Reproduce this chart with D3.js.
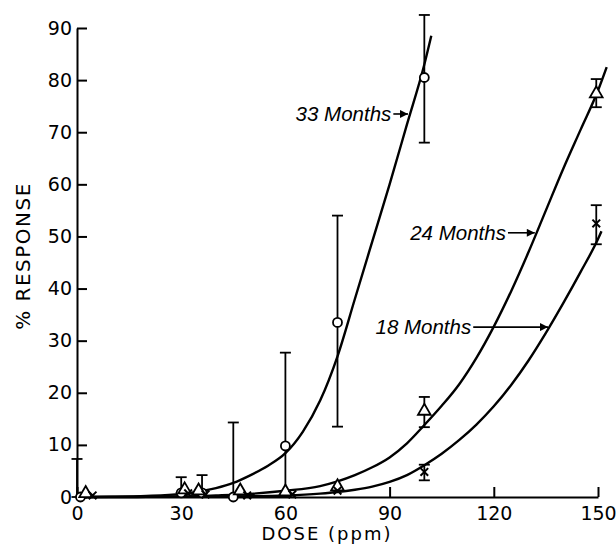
<!DOCTYPE html>
<html>
<head>
<meta charset="utf-8">
<script src="https://cdn.jsdelivr.net/npm/d3@7"></script>
<style>
  html, body { margin: 0; padding: 0; background: #fff; }
  svg { display: block; }
</style>
</head>
<body>
<svg id="chart" width="616" height="548"></svg>
<script>
// ---------- data ----------
const xTicks = [0, 30, 60, 90, 120, 150];
const yTicks = [0, 10, 20, 30, 40, 50, 60, 70, 80, 90];

// 33 months (circles)
const dose33 = [1, 30, 36, 45, 60, 75, 100];
const resp33 = [0, 0.8, 0.8, 0, 9.8, 33.5, 80.5];
const lo33   = [0, 0.8, 0.8, 0, 0, 13.5, 68];
const hi33   = [7.3, 3.8, 4.2, 14.3, 27.7, 54, 92.5];

// 24 months (triangles)
const dose24 = [2.5, 31, 35, 47, 60, 75, 100, 149.5];
const resp24 = [0.5, 1.2, 1.0, 1.0, 0.8, 1.8, 16.3, 77.2];
const lo24   = [null, null, null, null, null, null, 13.4, 74.8];
const hi24   = [null, null, null, null, null, null, 19.2, 80.2];

// 18 months (x marks)
const dose18 = [4.5, 32, 37, 49, 62, 75, 100, 149.5];
const resp18 = [0.3, 0.7, 0.5, 0.3, 0.5, 1.2, 4.8, 52.5];
const lo18   = [null, null, null, null, null, null, 3.2, 48.5];
const hi18   = [null, null, null, null, null, null, 6.2, 56];

// fitted curves
const curveDose33 = [0, 10, 20, 30, 40, 45, 50, 55, 60, 65, 70, 75, 80, 85, 90, 95, 100, 102];
const curveResp33 = [0, 0.05, 0.2, 0.6, 1.7, 2.7, 4.2, 6.0, 8.4, 12.5, 18.5, 27, 38, 49, 60, 71.5, 83, 88.5];
const curveDose24 = [0, 10, 20, 30, 40, 50, 60, 70, 75, 80, 85, 90, 95, 100, 105, 110, 115, 120, 125, 130, 135, 140, 145, 150, 152.5];
const curveResp24 = [0, 0.02, 0.05, 0.1, 0.3, 0.6, 1.2, 2.1, 3.0, 4.2, 5.7, 7.6, 10.3, 13.8, 17.5, 21.6, 26.7, 32.7, 39.5, 47, 55, 63, 70.5, 78, 82.5];
const curveDose18 = [0, 10, 20, 30, 40, 50, 60, 70, 75, 80, 85, 90, 95, 100, 105, 110, 115, 120, 125, 130, 135, 140, 145, 150, 151];
const curveResp18 = [0, 0, 0.02, 0.05, 0.1, 0.15, 0.3, 0.65, 0.95, 1.4, 2.0, 2.9, 4.2, 6.1, 8.3, 10.9, 13.9, 17.4, 21.5, 26.2, 31.5, 37.2, 43.2, 49.5, 51];

// annotations: label, dose/response the arrow points to
const annLabels = ["33 Months", "24 Months", "18 Months"];
const annTipDose = [95.3, 131.8, 135.6];
const annTipResp = [73.5, 50.7, 32.6];
const annTextEndDose = [90.5, 123.5, 113.5];

// ---------- drawing ----------
const svg = d3.select("#chart");
const x = d3.scaleLinear().domain([0, 150]).range([77, 598]);
const y = d3.scaleLinear().domain([0, 90]).range([497, 28]);

const tickFont = "'DejaVu Sans', sans-serif";

// y axis
const yAxis = svg.append("g")
  .attr("transform", `translate(${x(0)},0)`)
  .call(d3.axisLeft(y).tickValues(yTicks).tickFormat(d3.format("d"))
        .tickSizeInner(-10).tickSizeOuter(0).tickPadding(5));
// x axis
const xAxis = svg.append("g")
  .attr("transform", `translate(0,${y(0)})`)
  .call(d3.axisBottom(x).tickValues(xTicks).tickFormat(d3.format("d"))
        .tickSizeInner(-10).tickSizeOuter(0).tickPadding(10));

[yAxis, xAxis].forEach(g => {
  g.select(".domain").attr("stroke", "#000").attr("stroke-width", 2);
  g.selectAll(".tick line").attr("stroke", "#000").attr("stroke-width", 2);
  g.selectAll(".tick text").attr("fill", "#000")
    .style("font-family", tickFont).style("font-size", "19px");
});

// axis titles
svg.append("text")
  .attr("transform", `translate(30,256) rotate(-90)`)
  .attr("text-anchor", "middle")
  .style("font-family", tickFont).style("font-size", "20px")
  .style("letter-spacing", "1.5px")
  .text("% RESPONSE");
svg.append("text")
  .attr("x", 327).attr("y", 540)
  .attr("text-anchor", "middle")
  .style("font-family", tickFont).style("font-size", "18px")
  .style("letter-spacing", "2px")
  .text("DOSE (ppm)");

// curves
const line = d3.line().x(d => x(d[0])).y(d => y(d[1])).curve(d3.curveMonotoneX);
[[curveDose33, curveResp33], [curveDose24, curveResp24], [curveDose18, curveResp18]].forEach(([ds, rs]) => {
  svg.append("path")
    .datum(ds.map((d, i) => [d, rs[i]]))
    .attr("d", line)
    .attr("fill", "none").attr("stroke", "#000").attr("stroke-width", 2.4);
});

// error bars
function errorBars(ds, los, his) {
  ds.forEach((d, i) => {
    if (los[i] == null || his[i] == null) return;
    const g = svg.append("g").attr("stroke", "#000").attr("stroke-width", 1.8);
    const cx = x(d);
    g.append("line").attr("x1", cx).attr("x2", cx).attr("y1", y(los[i])).attr("y2", y(his[i]));
    g.append("line").attr("x1", cx - 5.5).attr("x2", cx + 5.5).attr("y1", y(his[i])).attr("y2", y(his[i]));
    g.append("line").attr("x1", cx - 5.5).attr("x2", cx + 5.5).attr("y1", y(los[i])).attr("y2", y(los[i]));
  });
}
errorBars(dose33.map((d, i) => i === 0 ? 0 : d), lo33, hi33);
errorBars(dose24, lo24, hi24);
errorBars(dose18, lo18, hi18);

// markers
dose33.forEach((d, i) => {
  svg.append("circle").attr("cx", x(d)).attr("cy", y(resp33[i])).attr("r", 4.5)
    .attr("fill", "#fff").attr("stroke", "#000").attr("stroke-width", 1.8);
});
const tri = d3.symbol().type(d3.symbolTriangle).size(70);
dose24.forEach((d, i) => {
  svg.append("path").attr("d", tri)
    .attr("transform", `translate(${x(d)},${y(resp24[i]) - 1})`)
    .attr("fill", "#fff").attr("stroke", "#000").attr("stroke-width", 1.8);
});
const cross = d3.symbol().type(d3.symbolX).size(40);
dose18.forEach((d, i) => {
  svg.append("path").attr("d", cross)
    .attr("transform", `translate(${x(d)},${y(resp18[i])})`)
    .attr("fill", "none").attr("stroke", "#000").attr("stroke-width", 2);
});

// arrowhead
svg.append("defs").append("marker")
  .attr("id", "arrow").attr("viewBox", "0 0 10 10")
  .attr("refX", 10).attr("refY", 5)
  .attr("markerWidth", 10).attr("markerHeight", 8).attr("markerUnits", "userSpaceOnUse")
  .attr("orient", "auto")
  .append("path").attr("d", "M0,0 L10,5 L0,10 Z").attr("fill", "#000");

// annotations
annLabels.forEach((lab, i) => {
  const ty = y(annTipResp[i]);
  svg.append("text")
    .attr("x", x(annTextEndDose[i])).attr("y", ty + 7)
    .attr("text-anchor", "end")
    .style("font-family", "'Liberation Sans', Arial, sans-serif")
    .style("font-style", "italic").style("font-size", "20.5px")
    .text(lab);
  svg.append("line")
    .attr("x1", x(annTextEndDose[i]) + 2).attr("x2", x(annTipDose[i]))
    .attr("y1", ty).attr("y2", ty)
    .attr("stroke", "#000").attr("stroke-width", 1.6)
    .attr("marker-end", "url(#arrow)");
});
</script>
</body>
</html>
